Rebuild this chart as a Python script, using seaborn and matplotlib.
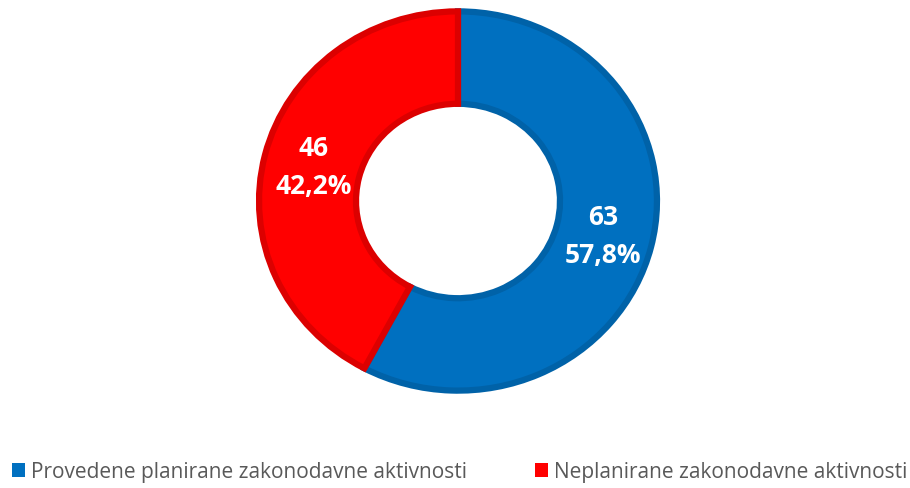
import matplotlib
matplotlib.use("Agg")
import matplotlib.pyplot as plt
import seaborn as sns

categories = ["Provedene planirane zakonodavne aktivnosti", "Neplanirane zakonodavne aktivnosti"]
values = [63, 46]
fill_colors = ["#0070C0", "#FF0000"]
edge_colors = ["#0062A8", "#DC0000"]

sns.set_theme(style="white")
plt.rcParams['font.family'] = ['Open Sans', 'DejaVu Sans']

W, H = 910, 489
fig = plt.figure(figsize=(W / 100, H / 100), dpi=100)
ax = fig.add_axes([0, 0, 1, 1])

total = sum(values)

def fmt(pct):
    v = int(round(pct * total / 100.0))
    return f"{v}\n{pct:.1f}%".replace(".", ",")

wedges, texts, autotexts = ax.pie(
    values,
    colors=fill_colors,
    startangle=90,
    counterclock=False,
    radius=0.985,
    autopct=fmt,
    pctdistance=0.75,
    wedgeprops=dict(width=0.48, linewidth=4.5, joinstyle="miter"),
    textprops=dict(color="white", fontsize=19, fontweight="bold"),
)
for w, ec in zip(wedges, edge_colors):
    w.set_edgecolor(ec)
for t in autotexts:
    t.set_linespacing(1.5)

# elliptical scaling like the reference
cx, cy = 458, 202
rx, ry = 202, 192.5
ax.set_aspect("auto")
ax.set_xlim(-cx / rx, (W - cx) / rx)
ax.set_ylim(-(H - cy) / ry, cy / ry)
ax.axis("off")

leg = fig.legend(
    wedges, categories,
    loc="center left", bbox_to_anchor=(12 / W, 1 - 473 / H),
    ncol=2, frameon=False, borderpad=0, borderaxespad=0,
    fontsize=15, labelcolor="#595959",
    handlelength=0.62, handleheight=0.62, handletextpad=0.3,
    columnspacing=3.25,
)
for h, c in zip(leg.legend_handles, fill_colors):
    h.set_edgecolor(c)
    h.set_linewidth(0)
    h.set_facecolor(c)

fig.savefig("out.png", dpi=100)
